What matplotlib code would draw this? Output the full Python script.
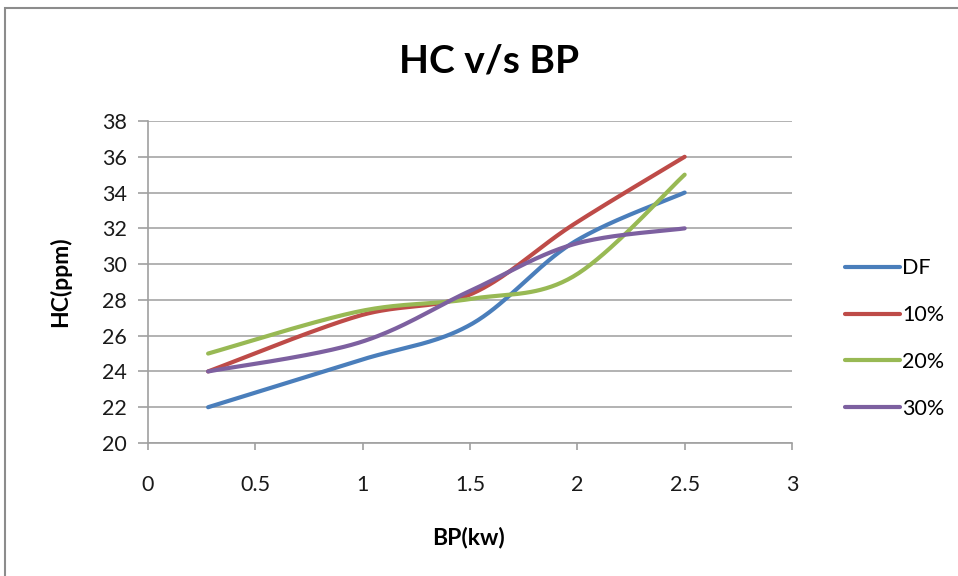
import numpy as np
import matplotlib
matplotlib.use("Agg")
import matplotlib.pyplot as plt
from matplotlib.patches import Rectangle

# Data
bp = [0.28, 0.98, 1.5, 1.98, 2.5]
series_names = ["DF", "10%", "20%", "30%"]
hc_df = [22.0, 24.6, 26.6, 31.2, 34.0]
hc_10 = [24.0, 27.1, 28.3, 32.2, 36.0]
hc_20 = [25.0, 27.35, 28.05, 29.3, 35.0]
hc_30 = [24.0, 25.6, 28.5, 31.1, 32.0]
colors = ["#4a7ebb", "#be4b48", "#98b954", "#7d60a0"]
xticks = [0, 0.5, 1, 1.5, 2, 2.5, 3]
xticklabels = ["0", "0.5", "1", "1.5", "2", "2.5", "3"]
yticks = list(range(20, 39, 2))


def smooth(x, y, n=40):
    x = np.asarray(x, float)
    y = np.asarray(y, float)
    P = np.column_stack([x, y])
    P = np.vstack([P[0], P, P[-1]])
    out = []
    t = np.linspace(0, 1, n)
    for i in range(1, len(P) - 2):
        p0, p1, p2, p3 = P[i - 1], P[i], P[i + 1], P[i + 2]
        c1 = p1 + (p2 - p0) / 6.0
        c2 = p2 - (p3 - p1) / 6.0
        seg = ((1 - t) ** 3)[:, None] * p1 + (3 * (1 - t) ** 2 * t)[:, None] * c1 \
            + (3 * (1 - t) * t ** 2)[:, None] * c2 + (t ** 3)[:, None] * p2
        out.append(seg if i == 1 else seg[1:])
    S = np.vstack(out)
    return S[:, 0], S[:, 1]


plt.rcParams['font.family'] = ['Lato', 'DejaVu Sans']
W, H = 958, 576
fig = plt.figure(figsize=(W / 100, H / 100), dpi=100)
fig.patch.set_facecolor("white")

# outer chart border
fig.add_artist(Rectangle((5 / W, -0.05), 1.1, 1 - 8 / H + 0.05, transform=fig.transFigure,
                         fill=False, edgecolor="#8c8c8c", linewidth=1.5))

left, right, top, bottom = 148, 792, 121, 443
ax = fig.add_axes([left / W, 1 - bottom / H, (right - left) / W, (bottom - top) / H])

for name, vals, c in zip(series_names, [hc_df, hc_10, hc_20, hc_30], colors):
    sx, sy = smooth(bp, vals)
    ax.plot(sx, sy, color=c, lw=3, solid_capstyle="round", label=name)

ax.set_xlim(0, 3)
ax.set_ylim(20, 38)
ax.set_xticks(xticks)
ax.set_xticklabels(xticklabels)
ax.set_yticks(yticks)
ax.grid(axis="y", color="#a6a6a6", lw=1.2)
ax.set_axisbelow(True)
for s in ["top", "right"]:
    ax.spines[s].set_visible(False)
for s in ["left", "bottom"]:
    ax.spines[s].set_color("#a0a0a0")
    ax.spines[s].set_linewidth(1.2)
ax.tick_params(axis="both", colors="#a0a0a0", labelcolor="#1a1a1a", labelsize=15.5,
               width=1.2, direction="out")
ax.tick_params(axis="y", length=7, pad=8)
ax.tick_params(axis="x", length=5, pad=18)

fig.text(489 / W, 1 - 61 / H, "HC v/s BP", ha="center", va="center",
         fontsize=28, fontweight="bold")
fig.text(60 / W, 1 - 282 / H, "HC(ppm)", ha="center", va="center", rotation=90,
         fontsize=16.5, fontweight="bold")
fig.text(468 / W, 1 - 538 / H, "BP(kw)", ha="center", va="center",
         fontsize=16.5, fontweight="bold")

leg = fig.legend(loc="center left", bbox_to_anchor=(834 / W, 1 - 338.5 / H),
                 frameon=False, fontsize=15.5, handlelength=2.55, handletextpad=0.12,
                 labelspacing=1.25, borderpad=0)

fig.savefig("out.png", dpi=100, facecolor="white")
